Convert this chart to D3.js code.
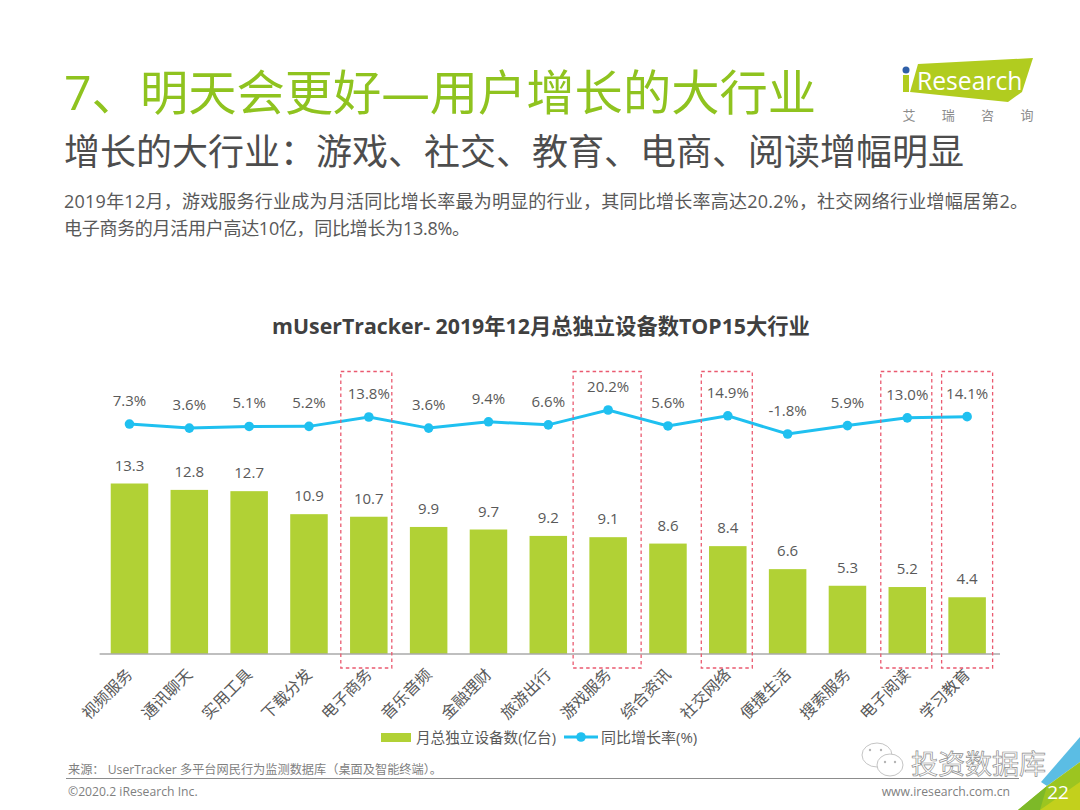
<!DOCTYPE html>
<html>
<head>
<meta charset="utf-8">
<script src="https://cdn.jsdelivr.net/npm/d3@7"></script>
<style>
  html, body { margin: 0; padding: 0; background: #fff; }
  svg { display: block; }
  text { font-family: "Open Sans", "Noto Sans CJK SC", sans-serif; }
</style>
</head>
<body>
<div id="chart"></div>
<script>
const categories = ["视频服务", "通讯聊天", "实用工具", "下载分发", "电子商务", "音乐音频", "金融理财", "旅游出行",
    "游戏服务", "综合资讯", "社交网络", "便捷生活", "搜索服务", "电子阅读", "学习教育"];
const devices = [13.3, 12.8, 12.7, 10.9, 10.7, 9.9, 9.7, 9.2, 9.1, 8.6, 8.4, 6.6, 5.3, 5.2, 4.4];
const growth = [7.3, 3.6, 5.1, 5.2, 13.8, 3.6, 9.4, 6.6, 20.2, 5.6, 14.9, -1.8, 5.9, 13.0, 14.1];
const highlighted = ["电子商务", "游戏服务", "社交网络", "电子阅读", "学习教育"];

const W = 1080, H = 810;
const svg = d3.select("#chart").append("svg").attr("width", W).attr("height", H);

const gray = "#595959", green = "#b1d135", blue = "#1fc0f0";

// full width punctuation
const COLON = "\uFF1A", COMMA = "\uFF0C", LP = "\uFF08", RP = "\uFF09";

// header
svg.append("text").attr("x", 64).attr("y", 110).attr("font-size", 48.3).attr("fill", "#8fc31f")
    .text("7、明天会更好—用户增长的大行业");
svg.append("text").attr("x", 64).attr("y", 165).attr("font-size", 36).attr("fill", "#4d4d4d")
    .text("增长的大行业" + COLON + "游戏、社交、教育、电商、阅读增幅明显");
svg.append("text").attr("x", 64).attr("y", 208).attr("font-size", 18).attr("fill", gray)
    .attr("textLength", 964)
    .text("2019年12月" + COMMA + "游戏服务行业成为月活同比增长率最为明显的行业" + COMMA + "其同比增长率高达20.2%" + COMMA + "社交网络行业增幅居第2。");
svg.append("text").attr("x", 64).attr("y", 235).attr("font-size", 18).attr("fill", gray)
    .attr("textLength", 406)
    .text("电子商务的月活用户高达10亿" + COMMA + "同比增长为13.8%。");

// logo
const logo = svg.append("g");
logo.append("polygon").attr("points", "918,64 1033,58 1022,92 1008,102 910,92").attr("fill", "#b1cc1f");
logo.append("rect").attr("x", 903).attr("y", 75).attr("width", 6).attr("height", 17).attr("fill", "#b1cc1f");
logo.append("circle").attr("cx", 906).attr("cy", 70).attr("r", 3.5).attr("fill", "#2f5fa8");
logo.append("text").attr("x", 917).attr("y", 90).attr("font-size", 24.7).attr("fill", "#fff").text("Research");
["艾", "瑞", "咨", "询"].forEach((t, i) => {
    logo.append("text").attr("x", 909 + i * 39.3).attr("y", 120).attr("text-anchor", "middle")
        .attr("font-size", 13).attr("fill", "#8c8c8c").text(t);
});

// chart title
svg.append("text").attr("x", 541).attr("y", 334).attr("text-anchor", "middle")
    .attr("font-size", 21.3).attr("font-weight", 700).attr("fill", "#404040")
    .text("mUserTracker- 2019年12月总独立设备数TOP15大行业");

// scales
const x = d3.scaleBand().domain(categories).range([99.6, 997]).paddingInner(0.373).paddingOuter(0.186);
const y = d3.scaleLinear().domain([0, 13.3]).range([653.5, 483.5]);
const yLine = d3.scaleLinear().domain([-1.8, 20.2]).range([434, 410]);
const cx = d => x(d) + x.bandwidth() / 2;

// bars
svg.append("g").selectAll("rect").data(categories).enter().append("rect")
    .attr("x", d => x(d))
    .attr("y", (d, i) => y(devices[i]))
    .attr("width", x.bandwidth())
    .attr("height", (d, i) => y(0) - y(devices[i]))
    .attr("fill", green);

svg.append("g").selectAll("text").data(categories).enter().append("text")
    .attr("x", cx)
    .attr("y", (d, i) => y(devices[i]) - 13)
    .attr("text-anchor", "middle")
    .attr("font-size", 15)
    .attr("fill", gray)
    .text((d, i) => devices[i].toFixed(1));

// x axis
const axis = svg.append("g").attr("transform", `translate(0, ${y(0)})`)
    .call(d3.axisBottom(x).tickSize(0).tickPadding(0));
axis.select(".domain").attr("stroke", "#808080").attr("stroke-width", 1.2).attr("d", "M99.6,0.5H1000");
axis.selectAll(".tick text")
    .attr("font-size", 15.8)
    .attr("font-family", null)
    .attr("fill", gray)
    .attr("text-anchor", "end")
    .attr("dy", null)
    .attr("y", 0)
    .attr("transform", "translate(4, 22) rotate(-45)");

// line
const line = d3.line().x(d => cx(d)).y((d, i) => yLine(growth[i]));
svg.append("path").datum(categories).attr("d", line)
    .attr("fill", "none").attr("stroke", blue).attr("stroke-width", 3);
svg.append("g").selectAll("circle").data(categories).enter().append("circle")
    .attr("cx", cx)
    .attr("cy", (d, i) => yLine(growth[i]))
    .attr("r", 4.8)
    .attr("fill", blue);
svg.append("g").selectAll("text").data(categories).enter().append("text")
    .attr("x", cx)
    .attr("y", (d, i) => yLine(growth[i]) - 18)
    .attr("text-anchor", "middle")
    .attr("font-size", 15)
    .attr("fill", gray)
    .text((d, i) => growth[i].toFixed(1) + "%");

// dashed highlight boxes
const boxLeft = { "电子商务": -28, "游戏服务": -35, "社交网络": -26.5, "电子阅读": -26.5, "学习教育": -25.5 };
svg.append("g").selectAll("rect").data(highlighted).enter().append("rect")
    .attr("x", d => cx(d) + boxLeft[d])
    .attr("y", 371.5)
    .attr("width", d => d === "游戏服务" ? 68 : 51)
    .attr("height", 296.5)
    .attr("fill", "none")
    .attr("stroke", "#ea5a70")
    .attr("stroke-width", 1.3)
    .attr("stroke-dasharray", "3.5 3");

// legend
svg.append("rect").attr("x", 381).attr("y", 733).attr("width", 30).attr("height", 9).attr("fill", green);
svg.append("text").attr("x", 416).attr("y", 743).attr("font-size", 14.6).attr("fill", gray).text("月总独立设备数(亿台)");
svg.append("line").attr("x1", 564).attr("x2", 598).attr("y1", 737).attr("y2", 737)
    .attr("stroke", blue).attr("stroke-width", 3);
svg.append("circle").attr("cx", 581).attr("cy", 737).attr("r", 4.8).attr("fill", blue);
svg.append("text").attr("x", 601).attr("y", 743).attr("font-size", 15).attr("fill", gray).text("同比增长率(%)");

// footer
svg.append("text").attr("x", 68).attr("y", 774).attr("font-size", 12.2).attr("fill", "#7f7f7f")
    .text("来源" + COLON + " UserTracker 多平台网民行为监测数据库" + LP + "桌面及智能终端" + RP + "。");
svg.append("line").attr("x1", 66).attr("x2", 1019).attr("y1", 778.5).attr("y2", 778.5)
    .attr("stroke", "#8c8c8c").attr("stroke-width", 1);
svg.append("text").attr("x", 68).attr("y", 796).attr("font-size", 12.2).attr("fill", "#7f7f7f").text("©2020.2 iResearch Inc.");
svg.append("text").attr("x", 1010).attr("y", 796).attr("text-anchor", "end").attr("font-size", 12.2).attr("fill", "#7f7f7f")
    .text("www.iresearch.com.cn");

// corner
svg.append("polygon").attr("points", "1080,737 1041,782 1047,786 1080,762").attr("fill", "#5bbde4");
svg.append("polygon").attr("points", "1018,810 1047,786 1080,762 1080,810").attr("fill", "#9cc520");
svg.append("polygon").attr("points", "1018,810 1047,786 1040,810").attr("fill", "#7db928");
svg.append("polygon").attr("points", "1040,810 1080,782 1080,810").attr("fill", "#c3d01c");
svg.append("text").attr("x", 1058).attr("y", 799).attr("text-anchor", "middle").attr("font-size", 19).attr("fill", "#fff").text("22");

// watermark
const wm = svg.append("g").attr("fill", "#fff").attr("stroke", "#b5b5b5").attr("stroke-width", 0.8);
wm.append("ellipse").attr("cx", 877).attr("cy", 755).attr("rx", 15).attr("ry", 12);
wm.append("ellipse").attr("cx", 890).attr("cy", 765).attr("rx", 13).attr("ry", 11);
[[870, 750], [881, 750], [885, 762], [895, 762]].forEach(p => {
    wm.append("circle").attr("cx", p[0]).attr("cy", p[1]).attr("r", 1.2).attr("fill", "#b5b5b5").attr("stroke", "none");
});
svg.append("text").attr("x", 911).attr("y", 774).attr("font-size", 27)
    .attr("fill", "#fff").attr("stroke", "#8c8c8c").attr("stroke-width", 0.7)
    .text("投资数据库");
</script>
</body>
</html>
